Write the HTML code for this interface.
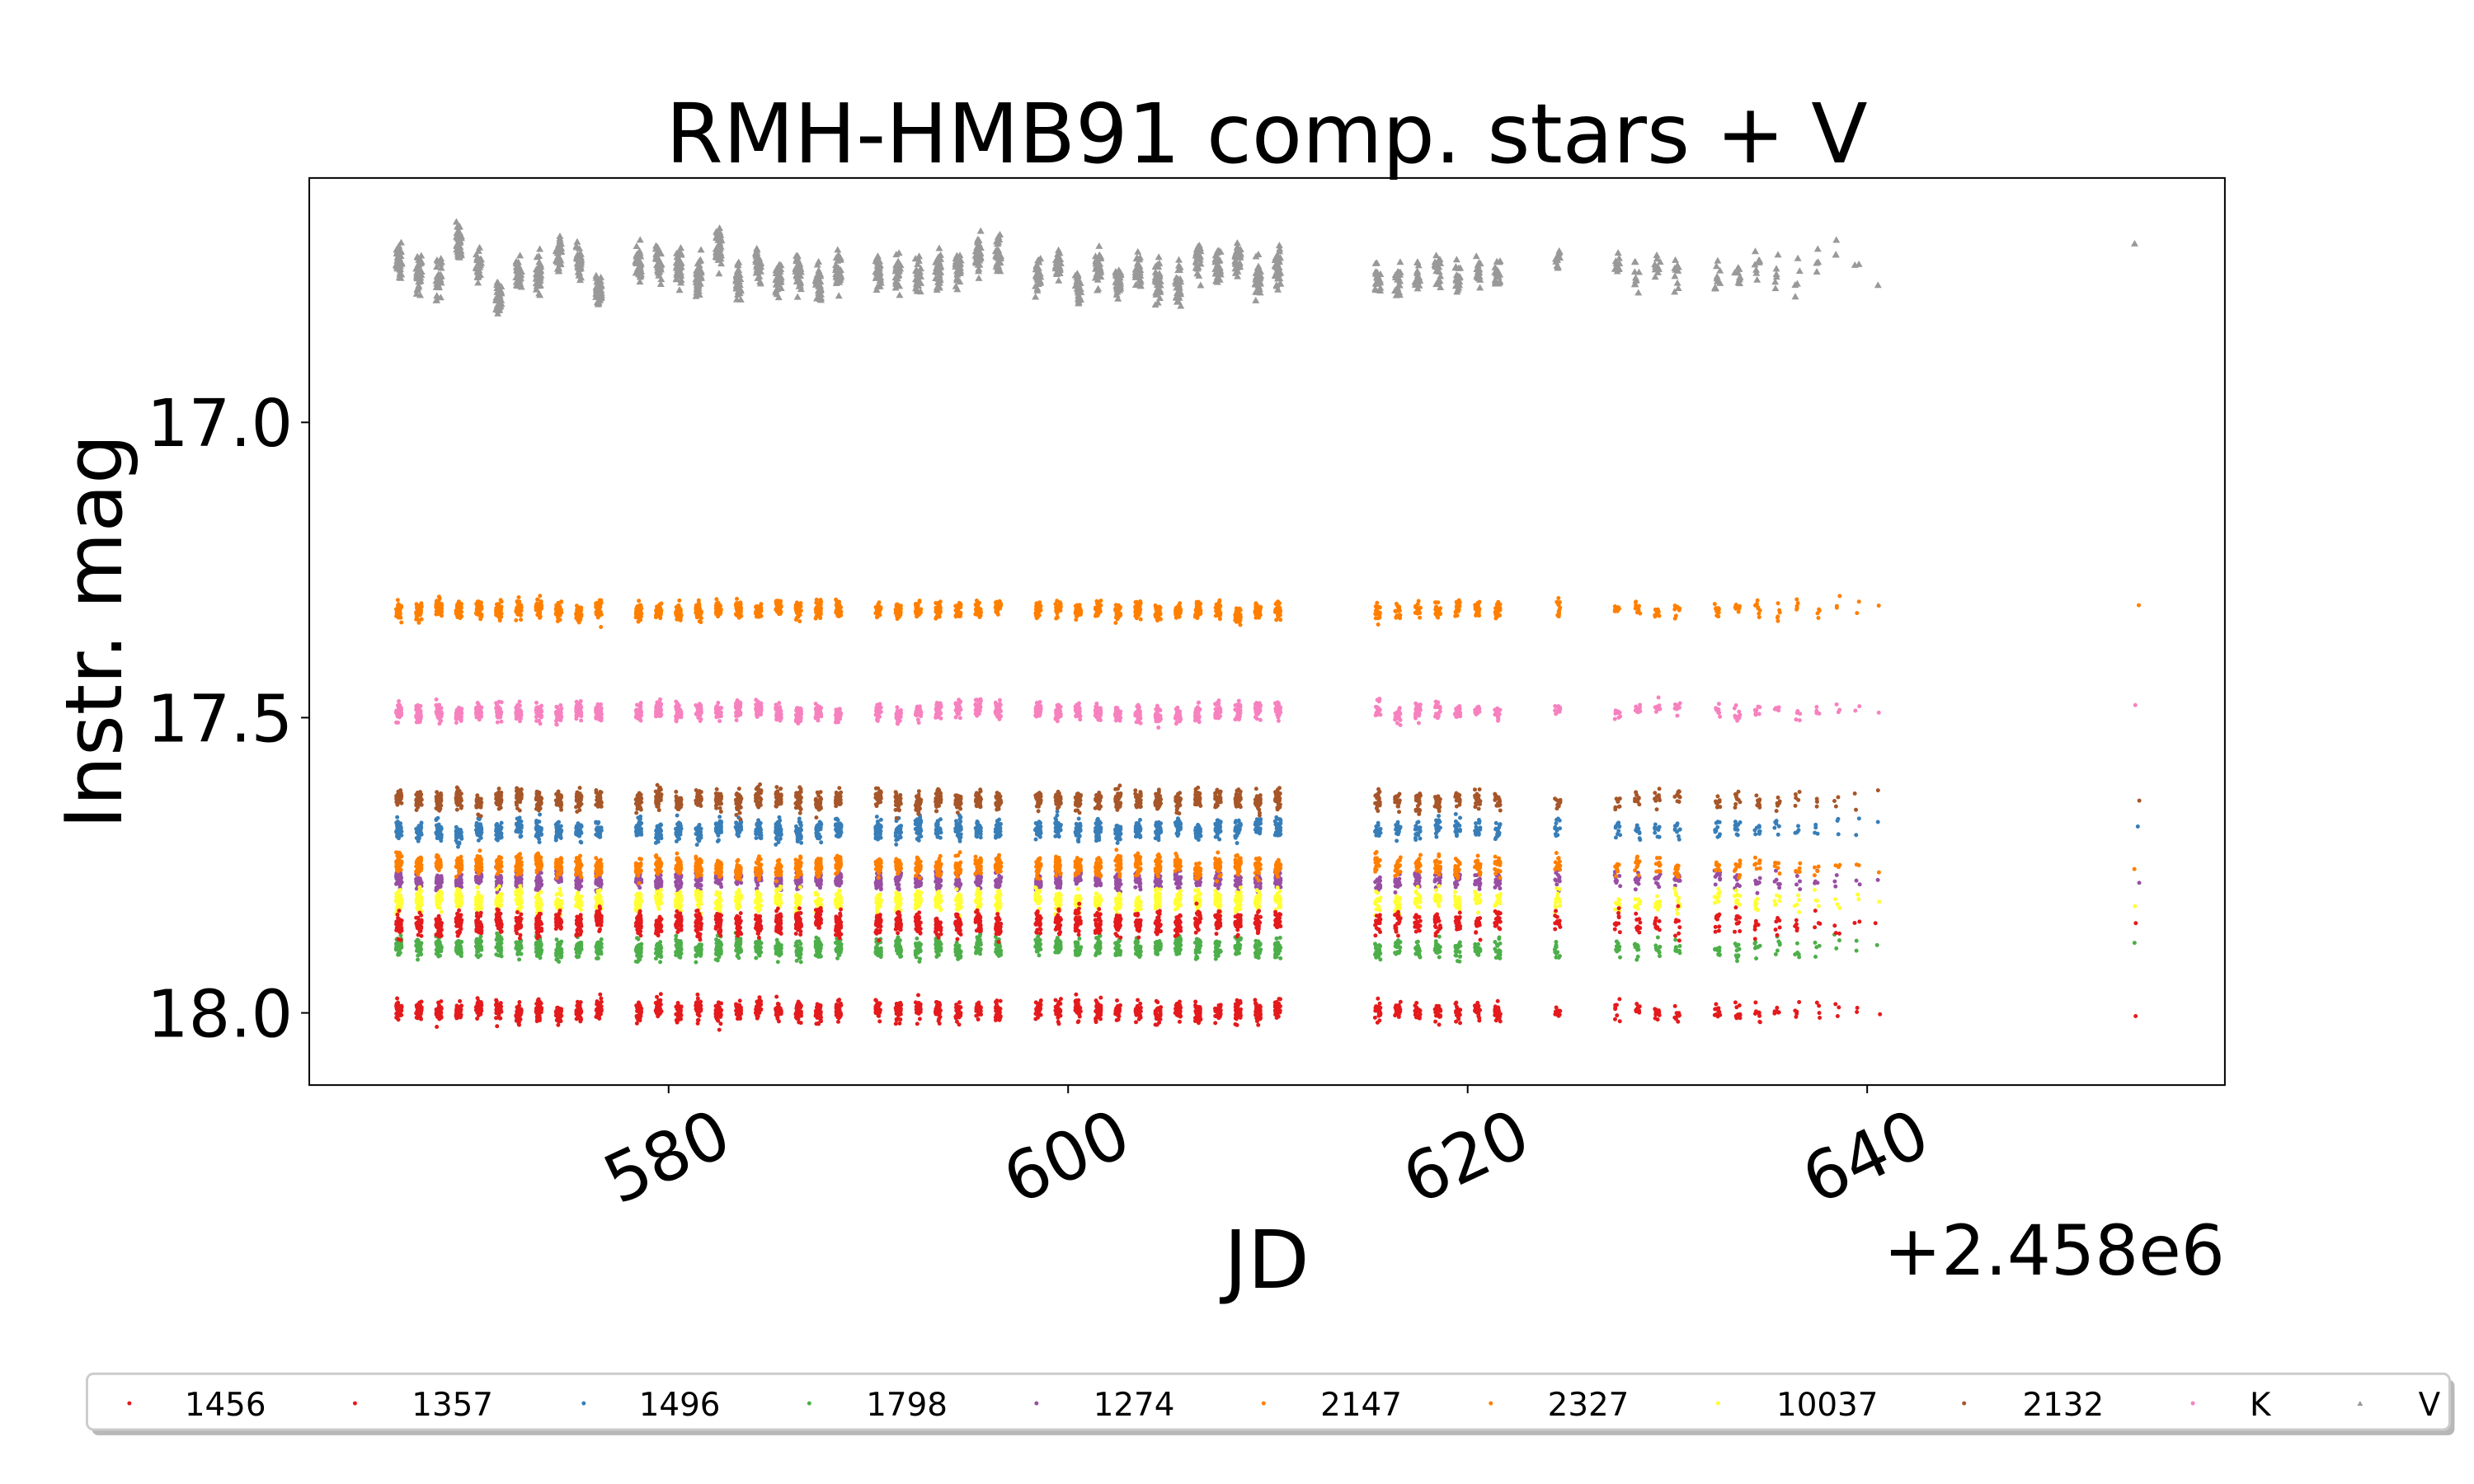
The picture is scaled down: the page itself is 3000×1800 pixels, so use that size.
<!DOCTYPE html>
<html><head><meta charset="utf-8"><style>
html,body{margin:0;padding:0;background:#fff;}
svg{display:block;font-family:"DejaVu Sans","Liberation Sans",sans-serif;}
</style></head><body>
<svg id="s" width="3000" height="1800" viewBox="0 0 3000 1800" xmlns="http://www.w3.org/2000/svg">
<rect width="3000" height="1800" fill="#fff"/>
<g transform="scale(0.9948)">
<g id="data"></g>
<rect x="377" y="217" width="2335" height="1106" fill="none" stroke="#000" stroke-width="2"/>
<g stroke="#000" stroke-width="2">
<line x1="377" y1="515" x2="367" y2="515"/>
<line x1="377" y1="875" x2="367" y2="875"/>
<line x1="377" y1="1235" x2="367" y2="1235"/>
<line x1="815" y1="1323" x2="815" y2="1333"/>
<line x1="1302" y1="1323" x2="1302" y2="1333"/>
<line x1="1789" y1="1323" x2="1789" y2="1333"/>
<line x1="2276" y1="1323" x2="2276" y2="1333"/>
</g>
<g font-size="80" fill="#000" text-anchor="end">
<text x="357" y="544">17.0</text>
<text x="357" y="904">17.5</text>
<text x="357" y="1264">18.0</text>
</g>
<g font-size="82" fill="#000" text-anchor="middle">
<text transform="translate(825,1436) rotate(-25)">580</text>
<text transform="translate(1312,1436) rotate(-25)">600</text>
<text transform="translate(1799,1436) rotate(-25)">620</text>
<text transform="translate(2286,1436) rotate(-25)">640</text>
</g>
<text x="2712" y="1554" font-size="84" text-anchor="end">+2.458e6</text>
<text x="1544" y="1570" font-size="98" text-anchor="middle">JD</text>
<text transform="translate(148,770) rotate(-90)" font-size="96" text-anchor="middle">Instr. mag</text>
<text x="1544" y="198" font-size="100" text-anchor="middle" textLength="1465" lengthAdjust="spacingAndGlyphs">RMH-HMB91 comp. stars + V</text>
<rect x="112" y="1682" width="2880" height="68" rx="8" fill="#888" opacity="0.6"/>
<rect x="106" y="1675" width="2880" height="68" rx="8" fill="#fff" stroke="#ccc" stroke-width="3"/>
<g id="leg" font-size="39" fill="#000"></g>
</g>
</svg>
<script>
(function(){
var seed=12345;function rnd(){seed=(seed*1103515245+12345)%2147483648;return seed/2147483648;}
function gauss(){var u=rnd()||1e-9,v=rnd();return Math.sqrt(-2*Math.log(u))*Math.cos(2*Math.PI*v);}
function X(jd){return 815+(jd-580)*24.35;}
function Y(m){return 515+(m-17)*720;}
var nights=[];
var i;
for(i=0;i<11;i++)nights.push([566.5+i,40]);
for(i=0;i<11;i++)nights.push([578.5+i,40]);
for(i=0;i<7;i++)nights.push([590.5+i,35]);
for(i=0;i<13;i++)nights.push([598.5+i,35]);
for(i=0;i<7;i++)nights.push([615.5+i,20]);
nights.push([624.5,12]);
for(i=0;i<4;i++)nights.push([627.5+i,10]);
var late=[10,10,8,6,5,4,3,2,1];
for(i=0;i<9;i++)nights.push([632.5+i,late[i]]);
nights.push([653.5,1]);
var series=[
 ["1456","#e41a1c",17.997,0.008],
 ["1357","#e41a1c",17.848,0.009],
 ["1496","#377eb8",17.69,0.008],
 ["1798","#4daf4a",17.89,0.008],
 ["1274","#984ea3",17.775,0.007],
 ["2147","#ff7f00",17.318,0.007],
 ["2327","#ff7f00",17.752,0.008],
 ["10037","#ffff33",17.81,0.008],
 ["2132","#a65628",17.64,0.008],
 ["K","#f781bf",17.49,0.007],
 ["V","#999999",16.74,0.015]
];
var draw=[4,2,3,8,5,6,9,7,1,0,10];
var out="";
draw.forEach(function(si){
  var s=series[si];var d="";
  nights.forEach(function(n){
    var off=gauss()*0.003, slope=0;
    if(s[0]=="V"){off=gauss()*0.018;slope=(rnd()-0.5)*0.03;}
    for(var k=0;k<n[1];k++){
      var t=rnd();
      var jd=n[0]+(t-0.5)*0.28;
      var m=s[2]+off+slope*(t-0.5)+gauss()*s[3];
      var x=X(jd),y=Y(m);
      if(s[0]=="V"){d+="M"+x.toFixed(1)+" "+(y-5).toFixed(1)+"l4.5 8h-9z";}
      else d+="M"+x.toFixed(1)+" "+y.toFixed(1)+"h0.01";
    }
  });
  if(s[0]=="V")out+='<path d="'+d+'" fill="'+s[1]+'"/>';
  else out+='<path d="'+d+'" fill="none" stroke="'+s[1]+'" stroke-width="5" stroke-linecap="round"/>';
});
document.getElementById("data").innerHTML=out;
var tx=[117,261,405,549,693,837,981,1126,1282,1426,1533];
var mx=[82,225,370,513,657,801,945,1089,1245,1390,1496];
var lg="";
series.forEach(function(s,j){
  var x=mx[j]*1.923, t=tx[j]*1.923;
  if(s[0]=="V")lg+='<path d="M'+x+' 1708l3.5 6h-7z" fill="'+s[1]+'"/>';
  else lg+='<circle cx="'+x+'" cy="1711" r="2.5" fill="'+s[1]+'"/>';
  lg+='<text x="'+t+'" y="1726">'+s[0]+'</text>';
});
document.getElementById("leg").innerHTML=lg;
})();
</script>
</body></html>
